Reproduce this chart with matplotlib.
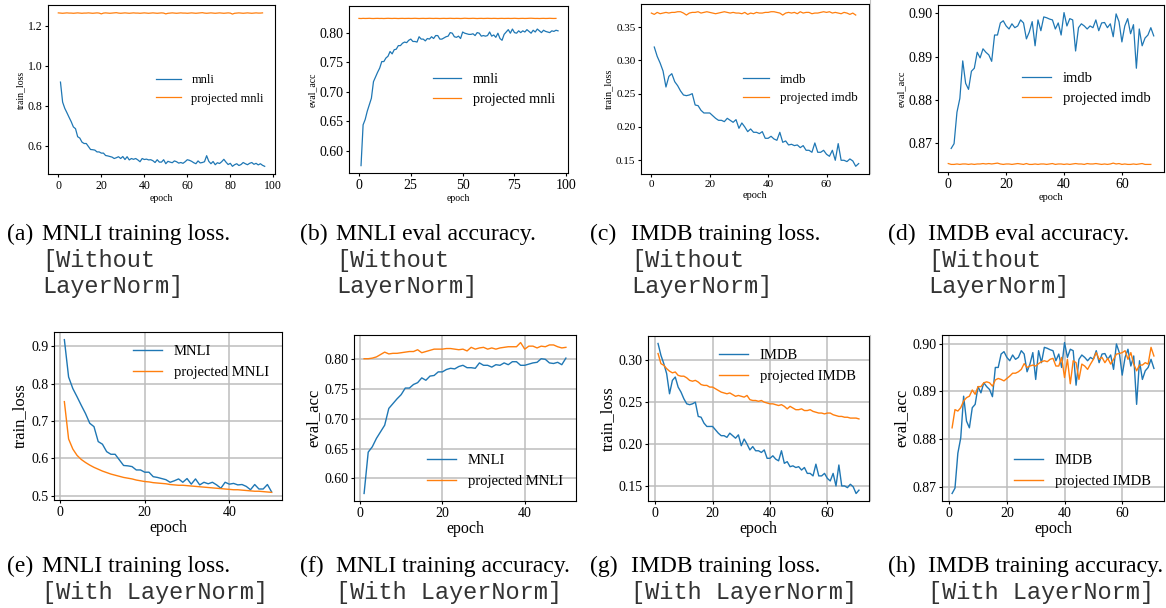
import numpy as np
import matplotlib
matplotlib.use('Agg')
import matplotlib.pyplot as plt
from matplotlib.lines import Line2D
from matplotlib.ticker import MultipleLocator

plt.rcParams['font.family'] = 'Liberation Serif'

# ---- MNLI (normal training, reused in top and bottom rows) ----
mnli_loss = [
    0.918, 0.818, 0.787, 0.765, 0.742, 0.720, 0.694, 0.685, 0.645, 0.638,
    0.618, 0.611, 0.611, 0.596, 0.581, 0.580, 0.578, 0.569, 0.569, 0.563,
    0.563, 0.551, 0.549, 0.546, 0.543, 0.536, 0.540, 0.545, 0.536, 0.546,
    0.531, 0.545, 0.529, 0.536, 0.532, 0.536, 0.529, 0.520, 0.536, 0.531,
    0.533, 0.529, 0.530, 0.525, 0.516, 0.530, 0.518, 0.518, 0.530, 0.510,
    0.522, 0.518, 0.515, 0.524, 0.520, 0.513, 0.516, 0.512, 0.520, 0.530,
    0.527, 0.522, 0.515, 0.510, 0.524, 0.514, 0.516, 0.520, 0.550, 0.522,
    0.510, 0.521, 0.505, 0.515, 0.511, 0.520, 0.532, 0.518, 0.506, 0.512,
    0.497, 0.505, 0.510, 0.501, 0.506, 0.516, 0.510, 0.505, 0.512, 0.516,
    0.507, 0.512, 0.504, 0.510, 0.502, 0.497]
mnli_acc = [
    0.575, 0.644, 0.653, 0.667, 0.678, 0.689, 0.717, 0.725, 0.733, 0.740,
    0.751, 0.751, 0.757, 0.760, 0.768, 0.764, 0.771, 0.772, 0.778, 0.778,
    0.782, 0.784, 0.783, 0.787, 0.789, 0.785, 0.785, 0.784, 0.793, 0.789,
    0.789, 0.786, 0.790, 0.789, 0.793, 0.790, 0.795, 0.795, 0.789, 0.789,
    0.791, 0.793, 0.794, 0.800, 0.799, 0.793, 0.792, 0.794, 0.790, 0.801,
    0.799, 0.798, 0.797, 0.797, 0.798, 0.795, 0.800, 0.799, 0.794, 0.795,
    0.794, 0.795, 0.801, 0.794, 0.796, 0.792, 0.799, 0.790, 0.787, 0.797,
    0.801, 0.805, 0.799, 0.806, 0.800, 0.799, 0.803, 0.800, 0.803, 0.801,
    0.805, 0.802, 0.799, 0.804, 0.801, 0.806, 0.803, 0.800, 0.804, 0.802,
    0.801, 0.800, 0.803, 0.802, 0.804, 0.803]

# projected MNLI without LayerNorm (flat)
mnli_loss_flat = [
    1.264, 1.263, 1.262, 1.263, 1.264, 1.263, 1.263, 1.262, 1.263, 1.264, 1.263, 1.262,
    1.263, 1.263, 1.264, 1.263, 1.262, 1.263, 1.264, 1.263, 1.259, 1.263, 1.264, 1.263,
    1.262, 1.263, 1.264, 1.265, 1.263, 1.262, 1.263, 1.264, 1.263, 1.262, 1.263, 1.264,
    1.263, 1.263, 1.262, 1.263, 1.264, 1.263, 1.262, 1.263, 1.264, 1.263, 1.262, 1.263,
    1.264, 1.263, 1.259, 1.262, 1.263, 1.264, 1.263, 1.262, 1.263, 1.264, 1.263, 1.263,
    1.262, 1.263, 1.264, 1.263, 1.262, 1.263, 1.264, 1.265, 1.263, 1.262, 1.263, 1.264,
    1.263, 1.262, 1.263, 1.264, 1.263, 1.262, 1.263, 1.264, 1.263, 1.258, 1.262, 1.263,
    1.264, 1.263, 1.262, 1.263, 1.264, 1.263, 1.262, 1.263, 1.264, 1.263, 1.263, 1.264]
mnli_acc_flat = [
    0.8240, 0.8238, 0.8241, 0.8239, 0.8240, 0.8242, 0.8239, 0.8238, 0.8240, 0.8241, 0.8239, 0.8240,
    0.8238, 0.8240, 0.8242, 0.8240, 0.8239, 0.8241, 0.8240, 0.8238, 0.8240, 0.8241, 0.8239, 0.8240,
    0.8241, 0.8239, 0.8240, 0.8242, 0.8240, 0.8238, 0.8240, 0.8241, 0.8239, 0.8240, 0.8242, 0.8240,
    0.8239, 0.8241, 0.8240, 0.8238, 0.8240, 0.8241, 0.8239, 0.8240, 0.8242, 0.8240, 0.8239, 0.8241,
    0.8240, 0.8238, 0.8240, 0.8243, 0.8241, 0.8239, 0.8240, 0.8242, 0.8240, 0.8238, 0.8240, 0.8241,
    0.8239, 0.8240, 0.8242, 0.8240, 0.8239, 0.8241, 0.8240, 0.8238, 0.8240, 0.8241, 0.8239, 0.8240,
    0.8241, 0.8239, 0.8240, 0.8242, 0.8240, 0.8238, 0.8240, 0.8241, 0.8239, 0.8240, 0.8242, 0.8243,
    0.8241, 0.8239, 0.8240, 0.8238, 0.8240, 0.8241, 0.8239, 0.8240, 0.8242, 0.8240, 0.8239, 0.8240]

# projected MNLI with LayerNorm (50 epochs)
mnli_loss_proj = [
    0.752, 0.652, 0.625, 0.608, 0.597, 0.589, 0.582, 0.576, 0.571, 0.566,
    0.562, 0.558, 0.555, 0.552, 0.549, 0.547, 0.545, 0.542, 0.540, 0.538,
    0.537, 0.535, 0.534, 0.533, 0.532, 0.530, 0.529, 0.528, 0.528, 0.527,
    0.526, 0.525, 0.524, 0.523, 0.522, 0.521, 0.520, 0.519, 0.518, 0.517,
    0.516, 0.516, 0.515, 0.514, 0.513, 0.512, 0.512, 0.511, 0.510, 0.509]
mnli_acc_proj = [
    0.800, 0.800, 0.801, 0.803, 0.807, 0.811, 0.808, 0.809, 0.809, 0.810,
    0.811, 0.812, 0.812, 0.815, 0.810, 0.812, 0.814, 0.816, 0.816, 0.816,
    0.817, 0.817, 0.816, 0.815, 0.816, 0.813, 0.819, 0.816, 0.818, 0.819,
    0.816, 0.818, 0.816, 0.818, 0.819, 0.820, 0.820, 0.820, 0.827, 0.816,
    0.821, 0.821, 0.818, 0.821, 0.820, 0.823, 0.823, 0.820, 0.818, 0.819]

# ---- IMDB ----
imdb_loss = [
    0.320, 0.306, 0.296, 0.284, 0.260, 0.276, 0.280, 0.268, 0.262, 0.254,
    0.248, 0.247, 0.248, 0.250, 0.233, 0.232, 0.225, 0.221, 0.221, 0.221,
    0.217, 0.213, 0.210, 0.210, 0.208, 0.213, 0.210, 0.207, 0.211, 0.198,
    0.206, 0.200, 0.193, 0.197, 0.192, 0.192, 0.190, 0.193, 0.183, 0.183,
    0.186, 0.182, 0.180, 0.192, 0.177, 0.179, 0.173, 0.174, 0.172, 0.173,
    0.169, 0.172, 0.165, 0.165, 0.162, 0.176, 0.162, 0.162, 0.165, 0.159,
    0.156, 0.165, 0.150, 0.175, 0.150, 0.150, 0.148, 0.152, 0.149, 0.141,
    0.145]
imdb_acc = [
    0.8687, 0.8698, 0.8771, 0.8803, 0.8890, 0.8838, 0.8824, 0.8866, 0.8873, 0.8910,
    0.8897, 0.8918, 0.8910, 0.8904, 0.8889, 0.8950, 0.8950, 0.8978, 0.8983, 0.8971,
    0.8964, 0.8976, 0.8967, 0.8971, 0.8985, 0.8978, 0.8941, 0.8957, 0.8981, 0.8925,
    0.8985, 0.8960, 0.8992, 0.8990, 0.8987, 0.8985, 0.8964, 0.8978, 0.8950, 0.9002,
    0.8971, 0.8988, 0.8985, 0.8913, 0.8967, 0.8976, 0.8971, 0.8964, 0.8971, 0.8967,
    0.8985, 0.8960, 0.8978, 0.8979, 0.8967, 0.8976, 0.8946, 0.8999, 0.8981, 0.8934,
    0.8971, 0.8988, 0.8953, 0.8974, 0.8873, 0.8964, 0.8925, 0.8943, 0.8950, 0.8967,
    0.8948]

imdb_loss_flat = [
    0.371, 0.369, 0.372, 0.370, 0.371, 0.372, 0.371, 0.372, 0.372, 0.373,
    0.373, 0.371, 0.368, 0.371, 0.372, 0.372, 0.373, 0.371, 0.372, 0.373,
    0.372, 0.371, 0.370, 0.371, 0.372, 0.373, 0.372, 0.371, 0.372, 0.371,
    0.371, 0.370, 0.372, 0.369, 0.371, 0.370, 0.372, 0.371, 0.371, 0.372,
    0.372, 0.373, 0.373, 0.372, 0.371, 0.368, 0.371, 0.372, 0.371, 0.372,
    0.370, 0.373, 0.371, 0.372, 0.372, 0.370, 0.371, 0.371, 0.372, 0.373,
    0.372, 0.373, 0.371, 0.372, 0.371, 0.370, 0.372, 0.371, 0.369, 0.371,
    0.368]
imdb_acc_flat = [
    0.8652, 0.8650, 0.8650, 0.8651, 0.8650, 0.8651, 0.8651, 0.8650, 0.8651, 0.8650,
    0.8651, 0.8651, 0.8652, 0.8651, 0.8652, 0.8651, 0.8652, 0.8653, 0.8651, 0.8650,
    0.8651, 0.8651, 0.8650, 0.8651, 0.8652, 0.8651, 0.8650, 0.8652, 0.8650, 0.8650,
    0.8651, 0.8650, 0.8651, 0.8651, 0.8650, 0.8651, 0.8652, 0.8650, 0.8651, 0.8651,
    0.8650, 0.8651, 0.8650, 0.8651, 0.8652, 0.8651, 0.8651, 0.8650, 0.8652, 0.8651,
    0.8651, 0.8652, 0.8651, 0.8650, 0.8651, 0.8650, 0.8651, 0.8653, 0.8651, 0.8652,
    0.8650, 0.8651, 0.8650, 0.8650, 0.8651, 0.8650, 0.8651, 0.8652, 0.8650, 0.8650,
    0.8650]

imdb_loss_proj = [
    0.308, 0.296, 0.294, 0.290, 0.287, 0.285, 0.286, 0.282, 0.281, 0.281,
    0.279, 0.276, 0.275, 0.276, 0.274, 0.271, 0.270, 0.270, 0.268, 0.268,
    0.266, 0.264, 0.262, 0.261, 0.260, 0.261, 0.259, 0.257, 0.258, 0.257,
    0.256, 0.258, 0.253, 0.252, 0.252, 0.251, 0.252, 0.250, 0.249, 0.248,
    0.248, 0.247, 0.246, 0.247, 0.245, 0.242, 0.245, 0.243, 0.241, 0.241,
    0.242, 0.240, 0.240, 0.241, 0.239, 0.238, 0.237, 0.237, 0.236, 0.237,
    0.237, 0.235, 0.234, 0.233, 0.233, 0.232, 0.232, 0.231, 0.231, 0.231,
    0.230]
imdb_acc_proj = [
    0.8824, 0.8862, 0.8859, 0.8866, 0.8880, 0.8887, 0.8890, 0.8903, 0.8894, 0.8910,
    0.8910, 0.8918, 0.8920, 0.8918, 0.8911, 0.8924, 0.8927, 0.8925, 0.8922, 0.8927,
    0.8932, 0.8938, 0.8938, 0.8941, 0.8946, 0.8958, 0.8950, 0.8953, 0.8955, 0.8953,
    0.8958, 0.8962, 0.8964, 0.8962, 0.8967, 0.8969, 0.8953, 0.8953, 0.8971, 0.8929,
    0.8967, 0.8916, 0.8964, 0.8960, 0.8925, 0.8957, 0.8953, 0.8946, 0.8957, 0.8967,
    0.8981, 0.8967, 0.8971, 0.8960, 0.8969, 0.8957, 0.8967, 0.8978, 0.8979, 0.8981,
    0.8985, 0.8967, 0.8981, 0.8957, 0.8943, 0.8955, 0.8955, 0.8960, 0.8957, 0.8992,
    0.8974]

top_captions = ['MNLI training loss.', 'MNLI eval accuracy.',
                'IMDB training loss.', 'IMDB eval accuracy.']
bottom_captions = ['MNLI training loss.', 'MNLI training accuracy.',
                   'IMDB training loss.', 'IMDB training accuracy.']

W, H = 1166, 608
fig = plt.figure(figsize=(W / 100, H / 100), dpi=100)


def box(l, t, r, b):
    # pixel box -> figure fraction
    return [l / W, 1 - b / H, (r - l) / W, (b - t) / H]


def top_panel(rect, blue, orange, names, ylab, xstep, ystep, tick_fs, lab_fs, leg_fs):
    ax = fig.add_axes(rect)
    ax.plot(np.arange(1, len(blue) + 1), blue, color='tab:blue', lw=0.9, label=names[0])
    ax.plot(np.arange(0, len(orange)), orange, color='tab:orange', lw=0.9, label=names[1])
    ax.xaxis.set_major_locator(MultipleLocator(xstep))
    ax.yaxis.set_major_locator(MultipleLocator(ystep))
    ax.tick_params(labelsize=tick_fs, length=2.5, pad=1.5)
    ax.set_xlabel('epoch', fontsize=lab_fs, labelpad=1.5)
    ax.set_ylabel(ylab, fontsize=lab_fs, labelpad=2)
    ax.legend(loc='center right', frameon=False, fontsize=leg_fs)
    return ax


def bottom_panel(rect, blue, orange, names, ylab, ystep, loc):
    ax = fig.add_axes(rect)
    ax.plot(np.arange(1, len(blue) + 1), blue, color='tab:blue', lw=1.0, label=names[0])
    ax.plot(np.arange(1, len(orange) + 1), orange, color='tab:orange', lw=1.0, label=names[1])
    ax.xaxis.set_major_locator(MultipleLocator(20))
    ax.yaxis.set_major_locator(MultipleLocator(ystep))
    ax.grid(True, color='#bdbdbd', lw=1.1)
    ax.set_axisbelow(True)
    ax.tick_params(labelsize=10, length=2.5, pad=1.5)
    ax.set_xlabel('epoch', fontsize=11.5, labelpad=1)
    ax.set_ylabel(ylab, fontsize=12, labelpad=2)
    ax.legend(loc=loc, frameon=False, fontsize=10.5)
    return ax


# top row: without LayerNorm
top_panel(box(48, 5, 275, 174), mnli_loss, mnli_loss_flat, ['mnli', 'projected mnli'],
          'train_loss', 20, 0.2, 8.5, 7, 9)
ax_b = top_panel(box(349, 6, 568, 173), mnli_acc, mnli_acc_flat, ['mnli', 'projected mnli'],
                 'eval_acc', 25, 0.05, 10, 7, 10.3)
ax_b.set_ylim(0.5625, 0.845)
top_panel(box(641, 4, 869, 174), imdb_loss, imdb_loss_flat, ['imdb', 'projected imdb'],
          'train_loss', 20, 0.05, 8, 7.5, 9.3)
top_panel(box(938, 5, 1164, 172), imdb_acc, imdb_acc_flat, ['imdb', 'projected imdb'],
          'eval_acc', 20, 0.01, 10, 7.5, 10.5)

# bottom row: with LayerNorm
bottom_panel(box(54, 332, 282, 500), mnli_loss[:50], mnli_loss_proj, ['MNLI', 'projected MNLI'],
             'train_loss', 0.1, 'upper right')
bottom_panel(box(354, 335, 576, 501), mnli_acc[:50], mnli_acc_proj, ['MNLI', 'projected MNLI'],
             'eval_acc', 0.05, 'lower right')
bottom_panel(box(648, 336, 869, 501), imdb_loss, imdb_loss_proj, ['IMDB', 'projected IMDB'],
             'train_loss', 0.05, 'upper right')
bottom_panel(box(942, 335, 1164, 501), imdb_acc, imdb_acc_proj, ['IMDB', 'projected IMDB'],
             'eval_acc', 0.01, 'lower right')

# faint border left over from the source images
fig.add_artist(Line2D([870 / W, 870 / W], [1 - 173 / H, 1.0], color='#c0c0c0', lw=0.8))
fig.add_artist(Line2D([870 / W, 870 / W], [1 - 500 / H, 1 - 335 / H], color='#c0c0c0', lw=0.8))

# captions (typewriter part drawn a little lighter, the original is a thin Courier)
mono = dict(fontsize=17, family='Liberation Mono', color='#333333')
tag_x = [7, 300, 590, 888]
text_x = [42, 336, 631, 928]
for i in range(4):
    fig.text(tag_x[i] / W, 1 - 240 / H, '(%s)' % 'abcd'[i], fontsize=17)
    fig.text(text_x[i] / W, 1 - 240 / H, top_captions[i], fontsize=17)
    fig.text(text_x[i] / W, 1 - 267 / H, '[Without', **mono)
    fig.text(text_x[i] / W, 1 - 293 / H, 'LayerNorm]', **mono)

    fig.text(tag_x[i] / W, 1 - 572 / H, '(%s)' % 'efgh'[i], fontsize=17)
    fig.text(text_x[i] / W, 1 - 572 / H, bottom_captions[i], fontsize=17)
    fig.text(text_x[i] / W, 1 - 599 / H, '[With LayerNorm]', **mono)

plt.savefig('out.png', dpi=100)
